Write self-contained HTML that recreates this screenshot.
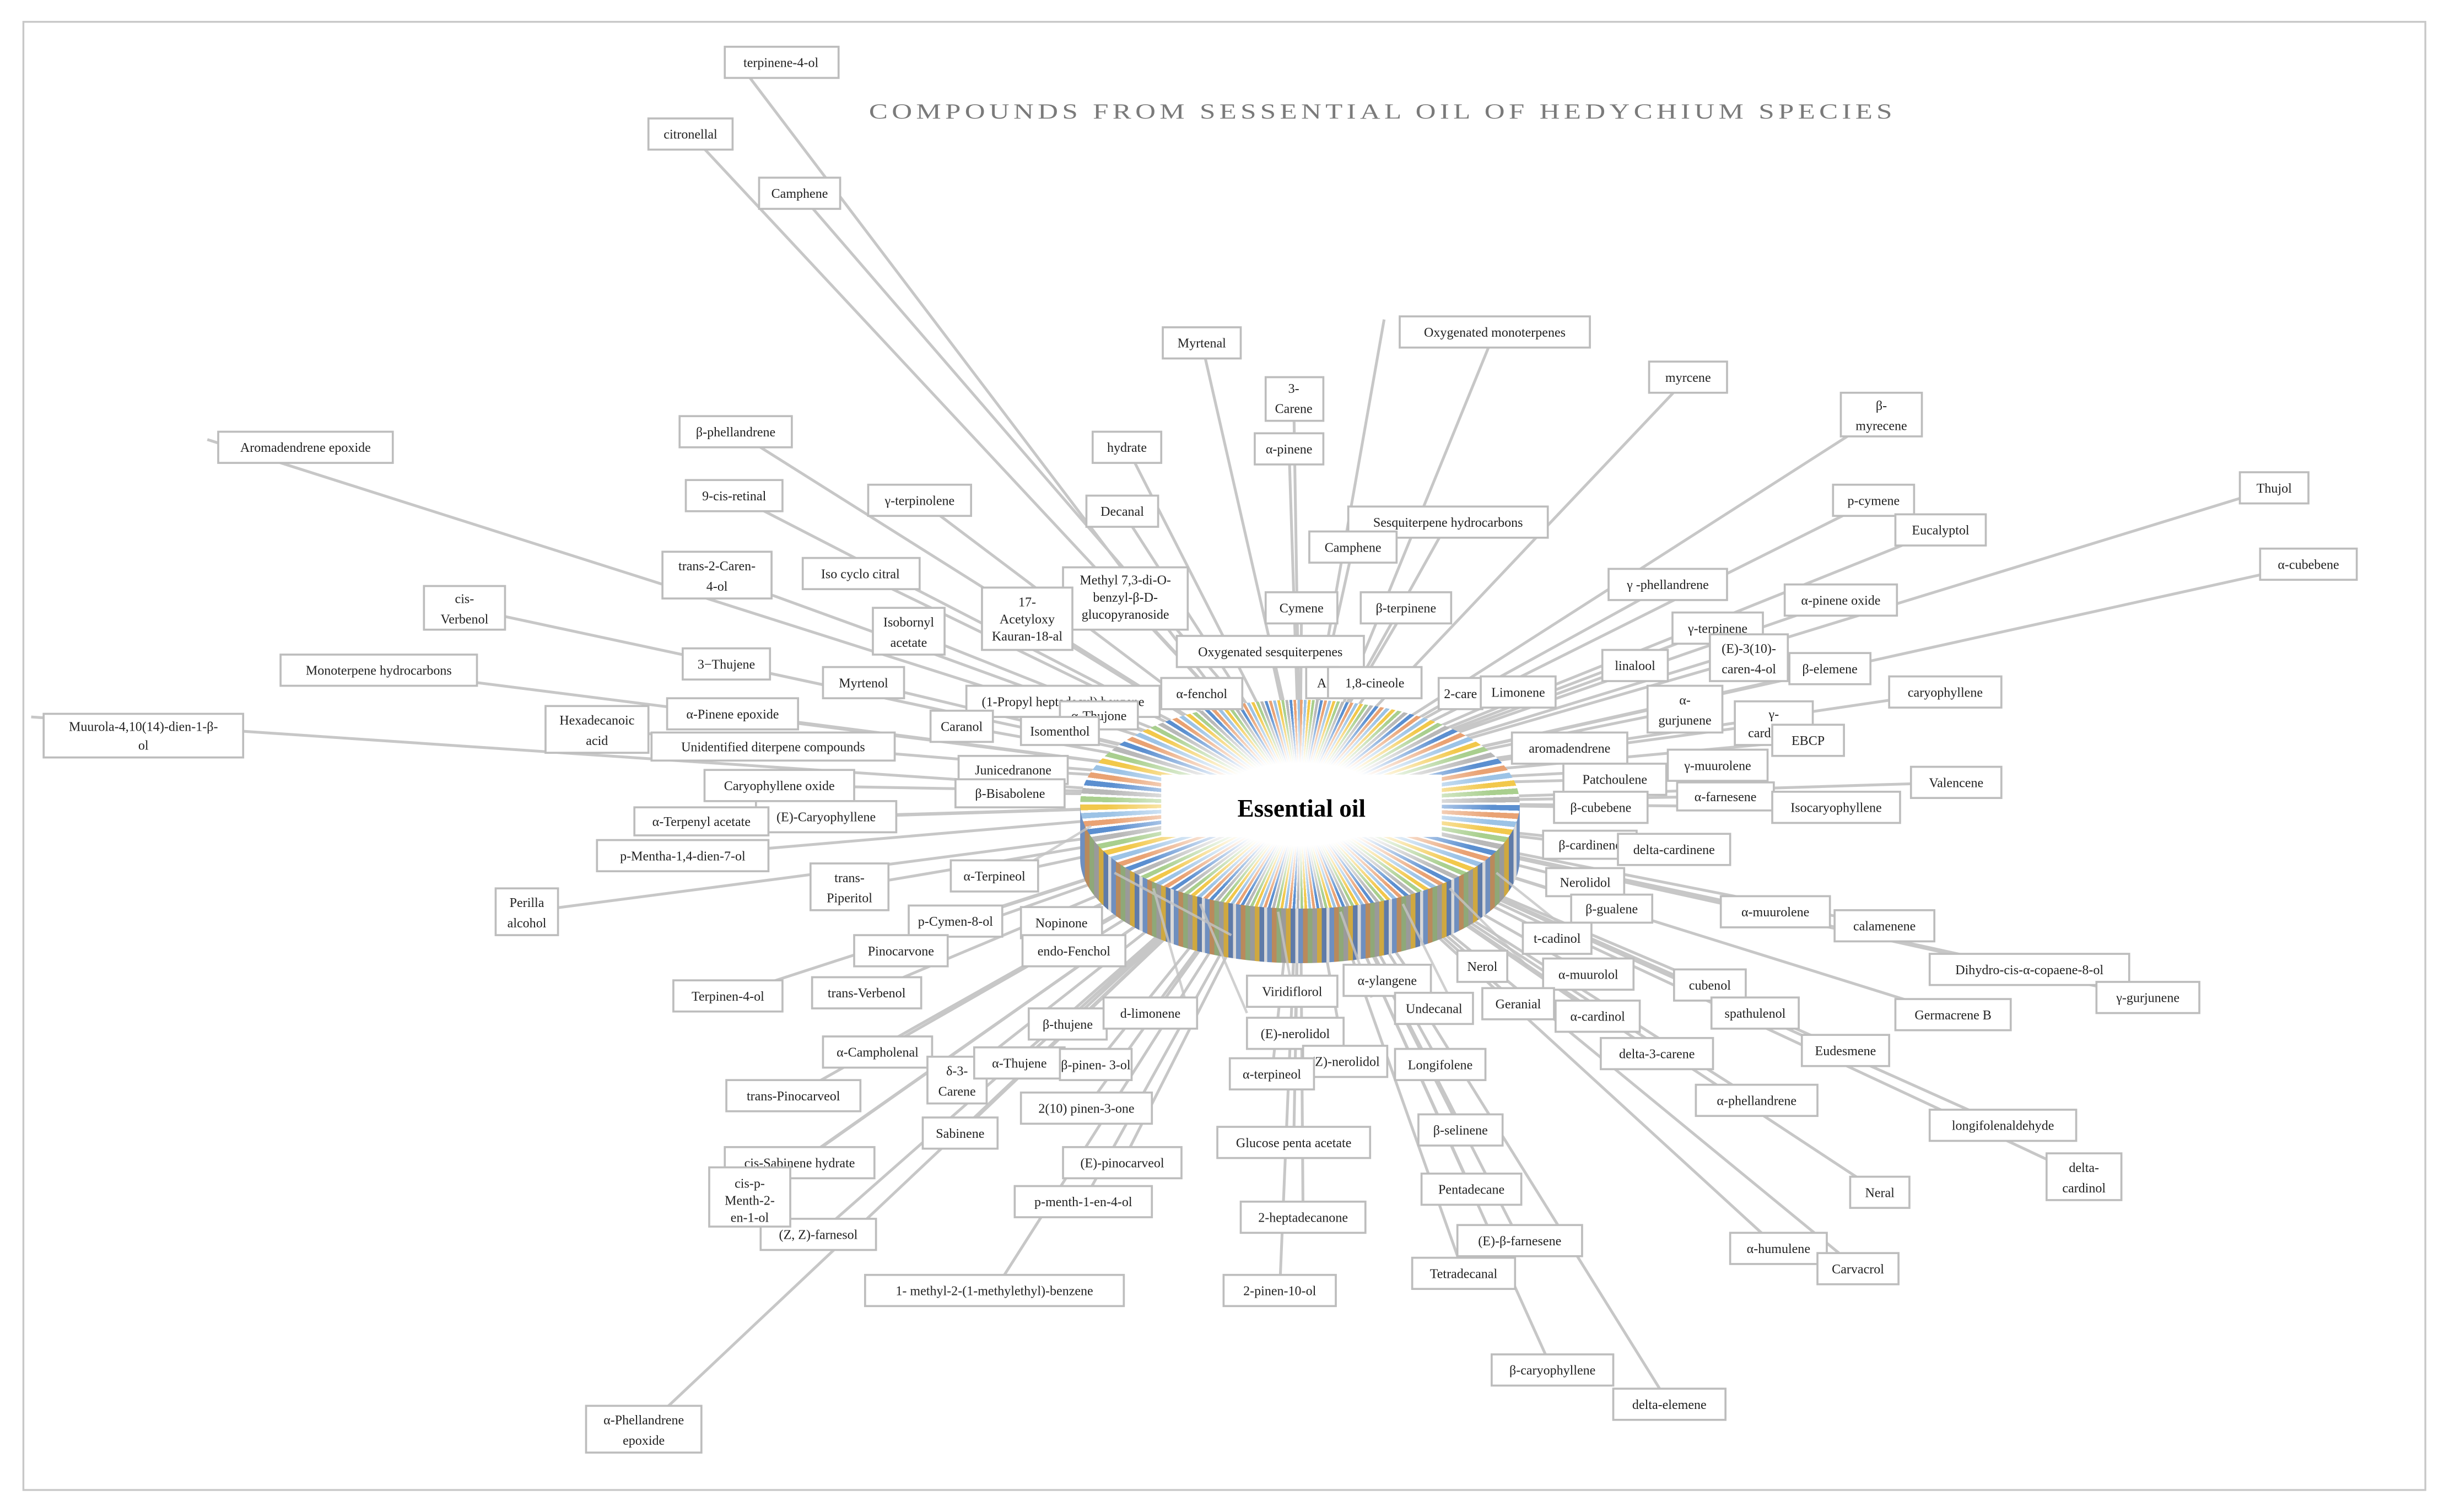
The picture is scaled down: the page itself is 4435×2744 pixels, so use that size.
<!DOCTYPE html>
<html><head><meta charset="utf-8"><style>
html,body{margin:0;padding:0;background:#fff;}
#wrap{position:relative;width:4435px;height:2744px;overflow:hidden;}
#s{position:absolute;left:0;top:0;width:1568px;height:970px;transform:scale(2.8285);transform-origin:0 0;}
.d{position:absolute;}
svg{position:absolute;left:0;top:0;}
text{font-family:"Liberation Serif",serif;font-size:8.5px;fill:#222;text-anchor:middle;}
rect.b{fill:#fff;stroke:#bdbdbd;stroke-width:1.3;}
</style></head><body><div id="wrap"><div id="s">
<svg width="1568" height="970" viewBox="0 0 1568 970">
<rect x="15" y="14" width="1541" height="942" fill="none" stroke="#c8c8c8" stroke-width="1.2"/>
<text x="887" y="76" style="font-size:14px;fill:#7a7a7a;letter-spacing:2px" textLength="659" lengthAdjust="spacingAndGlyphs">COMPOUNDS FROM  SESSENTIAL  OIL OF HEDYCHIUM SPECIES</text>
<g stroke="#c4c4c4" stroke-width="1.8" fill="none" opacity="0.95">
<path d="M466 30L830 510M443 86L834 505M513 124L838 500M771 220L836 505M959 213L840 505M888 205L836 500M830 256L834 505M1083 242L834 505M1207 266L834 505M723 287L834 505M827 288L834 505M720 328L834 505M929 335L834 505M1202 321L834 505M1245 340L834 505M1459 313L834 505M1481 362L834 505M133 282L834 505M472 277L834 505M471 318L834 505M590 321L834 505M460 369L834 505M552 368L834 505M298 390L834 505M868 351L834 505M722 384L834 505M659 397L834 505M583 405L834 505M835 390L834 505M902 390L834 505M1070 375L834 505M1181 385L834 505M1102 403L834 505M1049 427L834 505M1122 422L834 505M1174 429L834 505M1248 444L834 505M815 418L834 505M243 430L834 505M466 426L834 505M554 438L834 505M882 438L834 505M848 438L834 505M937 445L834 505M974 444L834 505M771 445L834 505M682 450L834 505M705 459L834 505M680 469L834 505M617 466L834 505M470 458L834 505M383 468L834 505M20 460L834 515M1081 455L834 505M1138 464L834 505M1160 475L834 505M1007 480L834 505M1102 491L834 505M1036 500L834 505M1107 511L834 515M1255 502L834 515M1178 518L834 515M1027 518L834 515M650 494L834 505M500 504L834 510M648 509L834 510M530 524L834 515M450 527L834 515M438 549L834 515M545 569L834 520M338 585L834 520M638 562L834 520M1020 542L834 520M1074 545L834 520M1017 566L834 520M1034 583L834 520M1139 585L834 520M1209 594L834 520M1302 622L834 520M1378 640L834 520M613 591L834 520M681 592L834 520M578 610L834 520M689 610L834 520M999 602L834 520M951 620L834 520M1019 625L834 520M1097 632L834 520M1253 651L834 520M467 639L834 520M556 637L834 520M829 636L834 520M890 629L834 520M974 644L834 520M1025 652L834 520M1126 650L834 520M1184 674L834 520M685 657L834 520M738 650L834 520M831 663L834 520M920 647L834 520M563 675L834 520M614 693L834 520M654 682L834 520M703 683L834 520M863 681L834 520M924 683L834 520M1063 676L834 520M816 689L834 520M509 703L834 520M697 711L834 520M1127 706L834 520M1285 722L834 520M616 727L834 520M937 725L834 520M830 733L834 520M513 746L834 520M720 746L834 520M1337 755L834 520M481 768L834 520M944 763L834 520M1206 765L834 520M695 771L834 520M836 781L834 520M525 792L834 520M975 796L834 520M1141 801L834 520M1192 814L834 520M939 817L834 520M638 828L834 520M821 828L834 520M996 879L834 520M1071 901L834 520M413 917L834 520"/>
</g>
</svg>
<div class="d" style="left:693px;top:484px;width:282px;height:134px;border-radius:50%;background:repeating-linear-gradient(90deg,#6f8fbf 0 3px,#b98a5c 3px 6px,#8fa878 6px 9px,#9a9a9a 9px 12px,#cfa840 12px 15px,#5f7ba8 15px 18px,#d8d8d8 18px 20px);"></div>
<div class="d" style="left:693px;top:516px;width:282px;height:35px;background:repeating-linear-gradient(90deg,#6f8fbf 0 3px,#b98a5c 3px 6px,#8fa878 6px 9px,#9a9a9a 9px 12px,#cfa840 12px 15px,#5f7ba8 15px 18px,#d8d8d8 18px 20px);"></div>
<div class="d" style="left:693px;top:449px;width:282px;height:134px;border-radius:50%;background:radial-gradient(ellipse at center,#fff 0,#fff 28%,rgba(255,255,255,0) 62%),repeating-conic-gradient(from 0deg,#e9a273 0 1.5deg,#fff 1.5deg 2.2deg,#9cc3e6 2.2deg 3.7deg,#fff 3.7deg 4.4deg,#f2c84b 4.4deg 5.9deg,#fff 5.9deg 6.6deg,#a9cf8e 6.6deg 8.1deg,#fff 8.1deg 8.8deg,#b8b8b8 8.8deg 10.3deg,#fff 10.3deg 11deg,#5b8fd0 11deg 12.5deg,#fff 12.5deg 13.2deg);"></div>
<svg width="1568" height="970" viewBox="0 0 1568 970">
<g stroke="#c4c4c4" stroke-width="1.6" fill="none" opacity="0.8">
<path d="M715 560L790 600M740 570L760 640M770 580L800 650M900 580L930 640M930 570L980 620M820 585L830 640M860 585L880 640M960 560L1010 600M700 530L650 560"/>
</g>
<g>
<rect class="b" x="465" y="30" width="73" height="20"/><text x="501" y="43">terpinene-4-ol</text>
<rect class="b" x="416" y="76" width="54" height="20"/><text x="443" y="89">citronellal</text>
<rect class="b" x="487" y="114" width="52" height="20"/><text x="513" y="127">Camphene</text>
<rect class="b" x="746" y="210" width="50" height="20"/><text x="771" y="223">Myrtenal</text>
<rect class="b" x="898" y="203" width="122" height="20"/><text x="959" y="216">Oxygenated  monoterpenes</text>
<rect class="b" x="812" y="242" width="37" height="28"/><text x="830" y="252">3-</text><text x="830" y="265">Carene</text>
<rect class="b" x="1058" y="232" width="50" height="20"/><text x="1083" y="245">myrcene</text>
<rect class="b" x="1181" y="252" width="52" height="28"/><text x="1207" y="263">β-</text><text x="1207" y="276">myrecene</text>
<rect class="b" x="701" y="277" width="44" height="20"/><text x="723" y="290">hydrate</text>
<rect class="b" x="805" y="278" width="44" height="20"/><text x="827" y="291">α-pinene</text>
<rect class="b" x="697" y="318" width="46" height="20"/><text x="720" y="331">Decanal</text>
<rect class="b" x="865" y="325" width="128" height="20"/><text x="929" y="338">Sesquiterpene  hydrocarbons</text>
<rect class="b" x="1176" y="311" width="52" height="20"/><text x="1202" y="324">p-cymene</text>
<rect class="b" x="1216" y="330" width="58" height="20"/><text x="1245" y="343">Eucalyptol</text>
<rect class="b" x="1437" y="303" width="44" height="20"/><text x="1459" y="316">Thujol</text>
<rect class="b" x="1450" y="352" width="62" height="20"/><text x="1481" y="365">α-cubebene</text>
<rect class="b" x="140" y="277" width="112" height="20"/><text x="196" y="290">Aromadendrene   epoxide</text>
<rect class="b" x="436" y="267" width="72" height="20"/><text x="472" y="280">β-phellandrene</text>
<rect class="b" x="440" y="308" width="62" height="20"/><text x="471" y="321">9-cis-retinal</text>
<rect class="b" x="557" y="311" width="66" height="20"/><text x="590" y="324">γ-terpinolene</text>
<rect class="b" x="425" y="354" width="70" height="30"/><text x="460" y="366">trans-2-Caren-</text><text x="460" y="379">4-ol</text>
<rect class="b" x="515" y="358" width="75" height="20"/><text x="552" y="371">Iso cyclo citral</text>
<rect class="b" x="272" y="376" width="52" height="28"/><text x="298" y="387">cis-</text><text x="298" y="400">Verbenol</text>
<rect class="b" x="840" y="341" width="56" height="20"/><text x="868" y="354">Camphene</text>
<rect class="b" x="682" y="364" width="80" height="40"/><text x="722" y="375">Methyl 7,3-di-O-</text><text x="722" y="386">benzyl-β-D-</text><text x="722" y="397">glucopyranoside</text>
<rect class="b" x="630" y="377" width="58" height="40"/><text x="659" y="389">17-</text><text x="659" y="400">Acetyloxy</text><text x="659" y="411">Kauran-18-al</text>
<rect class="b" x="560" y="390" width="46" height="30"/><text x="583" y="402">Isobornyl</text><text x="583" y="415">acetate</text>
<rect class="b" x="812" y="380" width="46" height="20"/><text x="835" y="393">Cymene</text>
<rect class="b" x="873" y="380" width="58" height="20"/><text x="902" y="393">β-terpinene</text>
<rect class="b" x="1032" y="365" width="76" height="20"/><text x="1070" y="378">γ -phellandrene</text>
<rect class="b" x="1145" y="375" width="72" height="20"/><text x="1181" y="388">α-pinene  oxide</text>
<rect class="b" x="1073" y="393" width="58" height="20"/><text x="1102" y="406">γ-terpinene</text>
<rect class="b" x="1028" y="417" width="42" height="20"/><text x="1049" y="430">linalool</text>
<rect class="b" x="1097" y="407" width="50" height="30"/><text x="1122" y="419">(E)-3(10)-</text><text x="1122" y="432">caren-4-ol</text>
<rect class="b" x="1148" y="419" width="52" height="20"/><text x="1174" y="432">β-elemene</text>
<rect class="b" x="1212" y="434" width="72" height="20"/><text x="1248" y="447">caryophyllene</text>
<rect class="b" x="755" y="408" width="120" height="20"/><text x="815" y="421">Oxygenated  sesquiterpenes</text>
<rect class="b" x="180" y="420" width="126" height="20"/><text x="243" y="433">Monoterpene  hydrocarbons</text>
<rect class="b" x="438" y="416" width="56" height="20"/><text x="466" y="429">3−Thujene</text>
<rect class="b" x="528" y="428" width="52" height="20"/><text x="554" y="441">Myrtenol</text>
<rect class="b" x="838" y="428" width="20" height="20"/><text x="848" y="441">A</text>
<rect class="b" x="852" y="428" width="60" height="20"/><text x="882" y="441">1,8-cineole</text>
<rect class="b" x="923" y="435" width="28" height="20"/><text x="937" y="448">2-care</text>
<rect class="b" x="950" y="434" width="48" height="20"/><text x="974" y="447">Limonene</text>
<rect class="b" x="745" y="435" width="52" height="20"/><text x="771" y="448">α-fenchol</text>
<rect class="b" x="620" y="440" width="124" height="20"/><text x="682" y="453">(1-Propyl  heptadecyl)  benzene</text>
<rect class="b" x="680" y="450" width="50" height="18"/><text x="705" y="462">α-Thujone</text>
<rect class="b" x="655" y="460" width="50" height="18"/><text x="680" y="472">Isomenthol</text>
<rect class="b" x="597" y="456" width="40" height="20"/><text x="617" y="469">Caranol</text>
<rect class="b" x="428" y="448" width="84" height="20"/><text x="470" y="461">α-Pinene  epoxide</text>
<rect class="b" x="350" y="453" width="66" height="30"/><text x="383" y="465">Hexadecanoic</text><text x="383" y="478">acid</text>
<rect class="b" x="28" y="458" width="128" height="28"/><text x="92" y="469">Muurola-4,10(14)-dien-1-β-</text><text x="92" y="481">ol</text>
<rect class="b" x="418" y="470" width="156" height="18"/><text x="496" y="482">Unidentified  diterpene  compounds</text>
<rect class="b" x="1057" y="440" width="48" height="30"/><text x="1081" y="452">α-</text><text x="1081" y="465">gurjunene</text>
<rect class="b" x="1113" y="450" width="50" height="28"/><text x="1138" y="461">γ-</text><text x="1138" y="473">cardinene</text>
<rect class="b" x="1137" y="465" width="46" height="20"/><text x="1160" y="478">EBCP</text>
<rect class="b" x="970" y="470" width="74" height="20"/><text x="1007" y="483">aromadendrene</text>
<rect class="b" x="1070" y="481" width="64" height="20"/><text x="1102" y="494">γ-muurolene</text>
<rect class="b" x="1003" y="490" width="66" height="20"/><text x="1036" y="503">Patchoulene</text>
<rect class="b" x="1076" y="502" width="62" height="18"/><text x="1107" y="514">α-farnesene</text>
<rect class="b" x="1226" y="492" width="58" height="20"/><text x="1255" y="505">Valencene</text>
<rect class="b" x="1137" y="508" width="82" height="20"/><text x="1178" y="521">Isocaryophyllene</text>
<rect class="b" x="997" y="508" width="60" height="20"/><text x="1027" y="521">β-cubebene</text>
<rect class="b" x="615" y="485" width="70" height="18"/><text x="650" y="497">Junicedranone</text>
<rect class="b" x="452" y="494" width="96" height="20"/><text x="500" y="507">Caryophyllene  oxide</text>
<rect class="b" x="613" y="500" width="70" height="18"/><text x="648" y="512">β-Bisabolene</text>
<rect class="b" x="485" y="514" width="90" height="20"/><text x="530" y="527">(E)-Caryophyllene</text>
<rect class="b" x="407" y="518" width="86" height="18"/><text x="450" y="530">α-Terpenyl  acetate</text>
<rect class="b" x="383" y="539" width="110" height="20"/><text x="438" y="552">p-Mentha-1,4-dien-7-ol</text>
<rect class="b" x="520" y="554" width="50" height="30"/><text x="545" y="566">trans-</text><text x="545" y="579">Piperitol</text>
<rect class="b" x="318" y="570" width="40" height="30"/><text x="338" y="582">Perilla</text><text x="338" y="595">alcohol</text>
<rect class="b" x="610" y="552" width="56" height="20"/><text x="638" y="565">α-Terpineol</text>
<rect class="b" x="990" y="533" width="60" height="18"/><text x="1020" y="545">β-cardinene</text>
<rect class="b" x="1038" y="535" width="72" height="20"/><text x="1074" y="548">delta-cardinene</text>
<rect class="b" x="992" y="557" width="50" height="18"/><text x="1017" y="569">Nerolidol</text>
<rect class="b" x="1008" y="574" width="52" height="18"/><text x="1034" y="586">β-gualene</text>
<rect class="b" x="1104" y="575" width="70" height="20"/><text x="1139" y="588">α-muurolene</text>
<rect class="b" x="1177" y="584" width="64" height="20"/><text x="1209" y="597">calamenene</text>
<rect class="b" x="1238" y="612" width="128" height="20"/><text x="1302" y="625">Dihydro-cis-α-copaene-8-ol</text>
<rect class="b" x="1345" y="630" width="66" height="20"/><text x="1378" y="643">γ-gurjunene</text>
<rect class="b" x="583" y="581" width="60" height="20"/><text x="613" y="594">p-Cymen-8-ol</text>
<rect class="b" x="655" y="582" width="52" height="20"/><text x="681" y="595">Nopinone</text>
<rect class="b" x="548" y="600" width="60" height="20"/><text x="578" y="613">Pinocarvone</text>
<rect class="b" x="656" y="600" width="66" height="20"/><text x="689" y="613">endo-Fenchol</text>
<rect class="b" x="977" y="592" width="44" height="20"/><text x="999" y="605">t-cadinol</text>
<rect class="b" x="935" y="610" width="32" height="20"/><text x="951" y="623">Nerol</text>
<rect class="b" x="990" y="615" width="58" height="20"/><text x="1019" y="628">α-muurolol</text>
<rect class="b" x="1074" y="622" width="46" height="20"/><text x="1097" y="635">cubenol</text>
<rect class="b" x="1216" y="641" width="74" height="20"/><text x="1253" y="654">Germacrene  B</text>
<rect class="b" x="432" y="629" width="70" height="20"/><text x="467" y="642">Terpinen-4-ol</text>
<rect class="b" x="521" y="627" width="70" height="20"/><text x="556" y="640">trans-Verbenol</text>
<rect class="b" x="800" y="626" width="58" height="20"/><text x="829" y="639">Viridiflorol</text>
<rect class="b" x="862" y="619" width="56" height="20"/><text x="890" y="632">α-ylangene</text>
<rect class="b" x="951" y="634" width="46" height="20"/><text x="974" y="647">Geranial</text>
<rect class="b" x="998" y="642" width="54" height="20"/><text x="1025" y="655">α-cardinol</text>
<rect class="b" x="1098" y="640" width="56" height="20"/><text x="1126" y="653">spathulenol</text>
<rect class="b" x="1156" y="664" width="56" height="20"/><text x="1184" y="677">Eudesmene</text>
<rect class="b" x="660" y="647" width="50" height="20"/><text x="685" y="660">β-thujene</text>
<rect class="b" x="708" y="640" width="60" height="20"/><text x="738" y="653">d-limonene</text>
<rect class="b" x="800" y="653" width="62" height="20"/><text x="831" y="666">(E)-nerolidol</text>
<rect class="b" x="895" y="637" width="50" height="20"/><text x="920" y="650">Undecanal</text>
<rect class="b" x="528" y="665" width="70" height="20"/><text x="563" y="678">α-Campholenal</text>
<rect class="b" x="595" y="678" width="38" height="30"/><text x="614" y="690">δ-3-</text><text x="614" y="703">Carene</text>
<rect class="b" x="625" y="672" width="58" height="20"/><text x="654" y="685">α-Thujene</text>
<rect class="b" x="680" y="673" width="46" height="20"/><text x="703" y="686">β-pinen- 3-ol</text>
<rect class="b" x="836" y="671" width="54" height="20"/><text x="863" y="684">(Z)-nerolidol</text>
<rect class="b" x="895" y="673" width="58" height="20"/><text x="924" y="686">Longifolene</text>
<rect class="b" x="1027" y="666" width="72" height="20"/><text x="1063" y="679">delta-3-carene</text>
<rect class="b" x="789" y="679" width="54" height="20"/><text x="816" y="692">α-terpineol</text>
<rect class="b" x="466" y="693" width="86" height="20"/><text x="509" y="706">trans-Pinocarveol</text>
<rect class="b" x="655" y="701" width="84" height="20"/><text x="697" y="714">2(10) pinen-3-one</text>
<rect class="b" x="1088" y="696" width="78" height="20"/><text x="1127" y="709">α-phellandrene</text>
<rect class="b" x="1238" y="712" width="94" height="20"/><text x="1285" y="725">longifolenaldehyde</text>
<rect class="b" x="592" y="717" width="48" height="20"/><text x="616" y="730">Sabinene</text>
<rect class="b" x="910" y="715" width="54" height="20"/><text x="937" y="728">β-selinene</text>
<rect class="b" x="781" y="723" width="98" height="20"/><text x="830" y="736">Glucose  penta  acetate</text>
<rect class="b" x="465" y="736" width="96" height="20"/><text x="513" y="749">cis-Sabinene  hydrate</text>
<rect class="b" x="682" y="736" width="76" height="20"/><text x="720" y="749">(E)-pinocarveol</text>
<rect class="b" x="1313" y="740" width="48" height="30"/><text x="1337" y="752">delta-</text><text x="1337" y="765">cardinol</text>
<rect class="b" x="912" y="753" width="64" height="20"/><text x="944" y="766">Pentadecane</text>
<rect class="b" x="1187" y="755" width="38" height="20"/><text x="1206" y="768">Neral</text>
<rect class="b" x="651" y="761" width="88" height="20"/><text x="695" y="774">p-menth-1-en-4-ol</text>
<rect class="b" x="796" y="771" width="80" height="20"/><text x="836" y="784">2-heptadecanone</text>
<rect class="b" x="488" y="782" width="74" height="20"/><text x="525" y="795">(Z, Z)-farnesol</text>
<rect class="b" x="455" y="749" width="52" height="38"/><text x="481" y="762">cis-p-</text><text x="481" y="773">Menth-2-</text><text x="481" y="784">en-1-ol</text>
<rect class="b" x="935" y="786" width="80" height="20"/><text x="975" y="799">(E)-β-farnesene</text>
<rect class="b" x="1110" y="791" width="62" height="20"/><text x="1141" y="804">α-humulene</text>
<rect class="b" x="1166" y="804" width="52" height="20"/><text x="1192" y="817">Carvacrol</text>
<rect class="b" x="906" y="807" width="66" height="20"/><text x="939" y="820">Tetradecanal</text>
<rect class="b" x="555" y="818" width="166" height="20"/><text x="638" y="831">1- methyl-2-(1-methylethyl)-benzene</text>
<rect class="b" x="785" y="818" width="72" height="20"/><text x="821" y="831">2-pinen-10-ol</text>
<rect class="b" x="957" y="869" width="78" height="20"/><text x="996" y="882">β-caryophyllene</text>
<rect class="b" x="1035" y="891" width="72" height="20"/><text x="1071" y="904">delta-elemene</text>
<rect class="b" x="376" y="902" width="74" height="30"/><text x="413" y="914">α-Phellandrene</text><text x="413" y="927">epoxide</text>
</g>
<rect x="745" y="497" width="180" height="40" fill="#fff"/>
<text x="835" y="524" style="font-size:16px;font-weight:bold;fill:#000">Essential oil</text>
</svg>
</div></div></body></html>
